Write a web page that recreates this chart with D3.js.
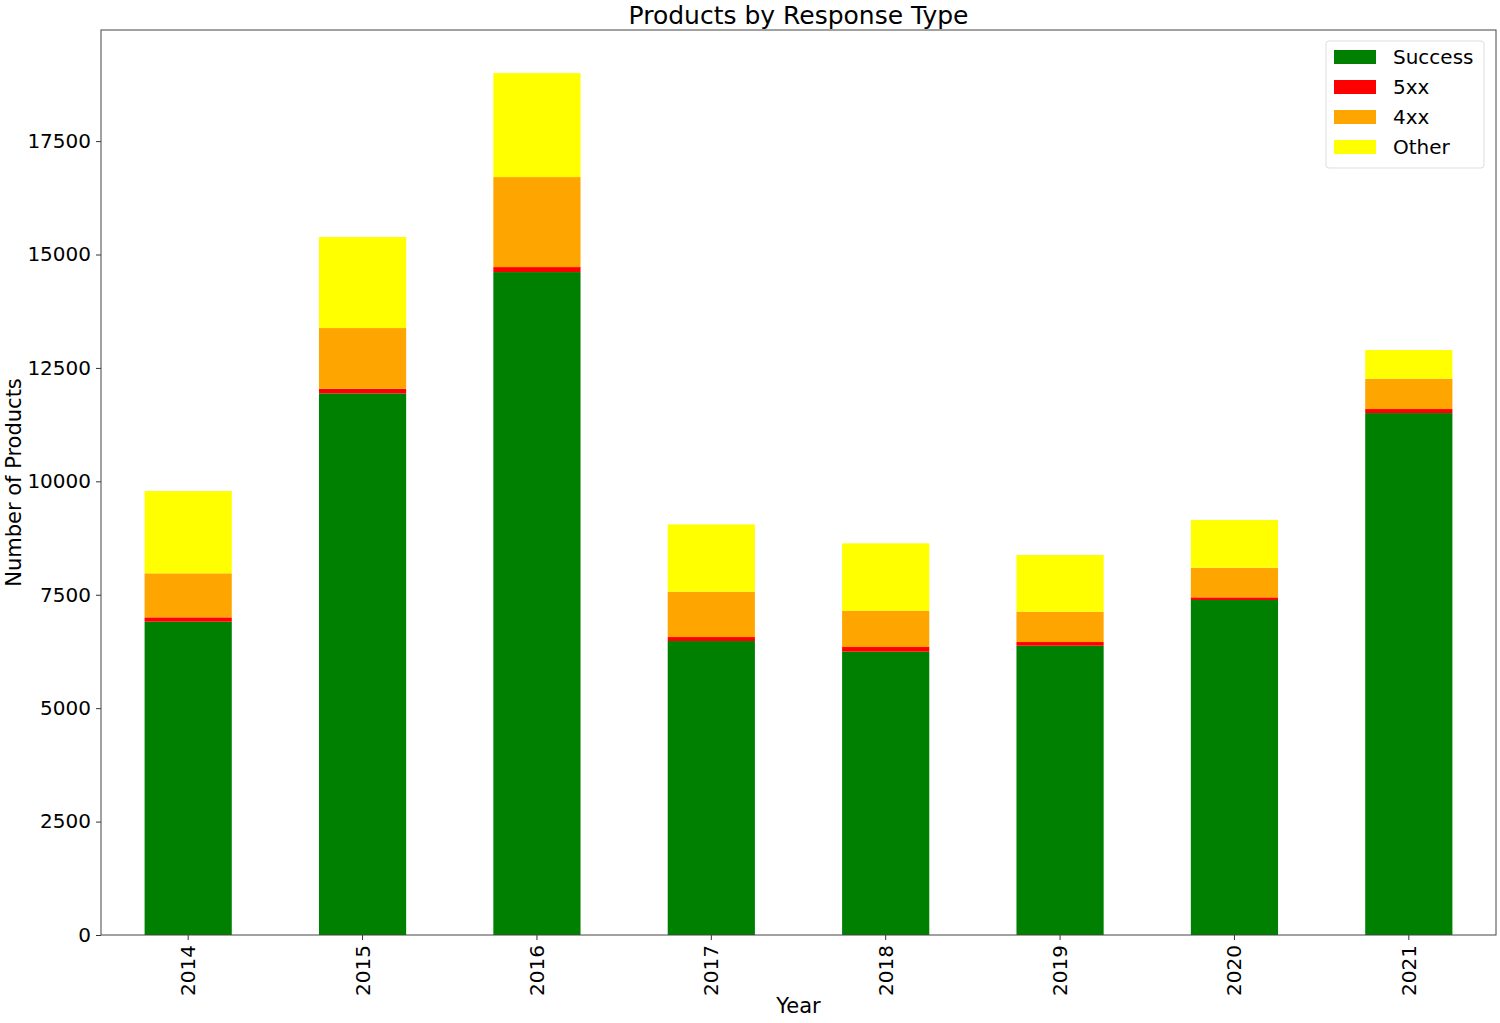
<!DOCTYPE html>
<html>
<head>
<meta charset="utf-8">
<script src="https://cdn.jsdelivr.net/npm/d3@7"></script>
<style>
  body { margin: 0; background: #fff; }
  text { font-family: "DejaVu Sans", sans-serif; fill: #000; }
</style>
</head>
<body>
<script>
// chart size
var svgWidth = 1500;
var svgHeight = 1023;

// data
var years = ["2014", "2015", "2016", "2017", "2018", "2019", "2020", "2021"];
var success = [6906, 11939, 14613, 6480, 6245, 6377, 7384, 11505];
var err5xx = [96, 102, 110, 88, 103, 81, 59, 89];
var err4xx = [970, 1338, 1984, 999, 801, 669, 653, 668];
var other = [1814, 2006, 2292, 1485, 1484, 1249, 1051, 632];
var seriesNames = ["Success", "5xx", "4xx", "Other"];
var seriesColors = ["green", "red", "orange", "yellow"];
var yTicks = [0, 2500, 5000, 7500, 10000, 12500, 15000, 17500];

var margin = {top: 30, right: 4, bottom: 88, left: 101};
var w = svgWidth - margin.left - margin.right;
var h = svgHeight - margin.top - margin.bottom;

var svg = d3.select("body")
    .append("svg")
    .attr("width", svgWidth)
    .attr("height", svgHeight);

var g = svg.append("g")
    .attr("transform", "translate(" + margin.left + "," + margin.top + ")");

// build table for the stack
var rows = years.map(function(y, i) {
    return {year: y, Success: success[i], "5xx": err5xx[i], "4xx": err4xx[i], Other: other[i]};
});
var stacked = d3.stack().keys(seriesNames)(rows);

var maxTotal = d3.max(stacked[stacked.length - 1], function(d) { return d[1]; });

var x = d3.scaleBand()
    .domain(years)
    .range([0, w])
    .paddingInner(0.5)
    .paddingOuter(0.25);

var y = d3.scaleLinear()
    .domain([0, maxTotal * 1.05])
    .range([h, 0]);

// bars
g.selectAll("g.layer")
    .data(stacked)
    .enter()
    .append("g")
    .attr("class", "layer")
    .style("fill", function(d, i) { return seriesColors[i]; })
    .selectAll("rect")
    .data(function(d) { return d; })
    .enter()
    .append("rect")
    .attr("x", function(d) { return x(d.data.year); })
    .attr("width", x.bandwidth())
    .attr("y", function(d) { return y(d[1]); })
    .attr("height", function(d) { return y(d[0]) - y(d[1]); });

// axes
var yAxis = g.append("g")
    .call(d3.axisLeft(y).tickValues(yTicks).tickSize(5).tickPadding(5).tickFormat(d3.format("d")));
yAxis.select(".domain").remove();
yAxis.selectAll("text").style("font-size", "20px");

var xAxis = g.append("g")
    .attr("transform", "translate(0," + h + ")")
    .call(d3.axisBottom(x).tickSize(5).tickPadding(0));
xAxis.select(".domain").remove();
xAxis.selectAll("text")
    .style("font-size", "20px")
    .attr("text-anchor", "end")
    .attr("transform", "rotate(-90)")
    .attr("x", -10)
    .attr("y", 0)
    .attr("dy", "0.35em");
g.selectAll(".tick line").attr("stroke", "#333");

// frame
g.append("rect")
    .attr("width", w)
    .attr("height", h)
    .attr("fill", "none")
    .attr("stroke", "#444")
    .attr("stroke-width", 1);

// title and labels
svg.append("text")
    .attr("x", margin.left + w / 2)
    .attr("y", 24)
    .attr("text-anchor", "middle")
    .style("font-size", "25px")
    .text("Products by Response Type");

svg.append("text")
    .attr("x", margin.left + w / 2)
    .attr("y", 1013)
    .attr("text-anchor", "middle")
    .style("font-size", "21px")
    .text("Year");

svg.append("text")
    .attr("transform", "translate(21," + (margin.top + h / 2) + ") rotate(-90)")
    .attr("text-anchor", "middle")
    .style("font-size", "21px")
    .text("Number of Products");

// legend
var legend = svg.append("g")
    .attr("transform", "translate(1326,41)");

legend.append("rect")
    .attr("width", 158)
    .attr("height", 127)
    .attr("rx", 3)
    .attr("fill", "#fff")
    .attr("fill-opacity", 0.8)
    .attr("stroke", "#ddd");

var item = legend.selectAll("g.item")
    .data(seriesNames)
    .enter()
    .append("g")
    .attr("class", "item")
    .attr("transform", function(d, i) { return "translate(0," + (16 + i * 30) + ")"; });

item.append("rect")
    .attr("x", 8)
    .attr("y", -7)
    .attr("width", 42)
    .attr("height", 14)
    .style("fill", function(d, i) { return seriesColors[i]; });

item.append("text")
    .attr("x", 67)
    .attr("y", 0)
    .attr("dy", "0.35em")
    .style("font-size", "20px")
    .text(function(d) { return d; });
</script>
</body>
</html>
